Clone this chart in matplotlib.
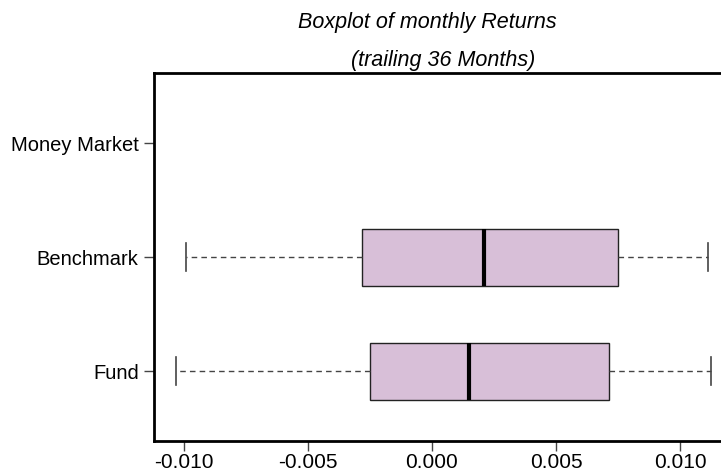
import matplotlib
matplotlib.use("Agg")
import matplotlib.pyplot as plt

plt.rcParams["font.family"] = ["Liberation Sans", "DejaVu Sans"]

categories = ["Fund", "Benchmark", "Money Market"]
whisker_lo = [-0.01032, -0.00993]
q1 = [-0.00250, -0.00284]
median = [0.00150, 0.00210]
q3 = [0.00715, 0.00749]
whisker_hi = [0.01124, 0.01114]
xticks = [-0.010, -0.005, 0.000, 0.005, 0.010]
xtick_labels = ["-0.010", "-0.005", "0.000", "0.005", "0.010"]

stats = []
for i in range(len(q1)):
    stats.append({
        "whislo": whisker_lo[i], "q1": q1[i], "med": median[i],
        "q3": q3[i], "whishi": whisker_hi[i], "fliers": [],
    })

fig = plt.figure(figsize=(7.21, 4.72), dpi=100)
# axes runs past the right edge, as in the reference
ax = fig.add_axes([0.2136, 0.0663, 0.8258, 0.7797])

ax.bxp(
    stats, positions=[1, 2], widths=0.5, vert=False, patch_artist=True,
    boxprops=dict(facecolor="#D8BFD8", edgecolor="#222222", linewidth=1.0),
    medianprops=dict(color="black", linewidth=3.0, solid_capstyle="butt"),
    whiskerprops=dict(color="#444444", linestyle=(0, (4, 3)), linewidth=1.0),
    capprops=dict(color="#444444", linewidth=1.2),
    capwidths=0.25,
)

ax.set_xlim(-0.01121, 0.0128)
ax.set_ylim(0.389, 3.617)
ax.set_yticks([1, 2, 3])
ax.set_yticklabels(categories, fontsize=14.5)
ax.set_xticks(xticks)
ax.set_xticklabels(xtick_labels, fontsize=15)
ax.tick_params(axis="both", length=7, width=1, color="#444444")
ax.tick_params(axis="x", pad=2)
ax.tick_params(axis="y", pad=4)

for side in ["left", "bottom", "top", "right"]:
    ax.spines[side].set_linewidth(2.0)
    ax.spines[side].set_color("black")

fig.text(0.592, 0.953, "Boxplot of monthly Returns", ha="center", va="center",
         fontsize=15.5, style="italic")
fig.text(0.614, 0.872, "(trailing 36 Months)", ha="center", va="center",
         fontsize=15.5, style="italic")

fig.savefig("out.png", dpi=100)
